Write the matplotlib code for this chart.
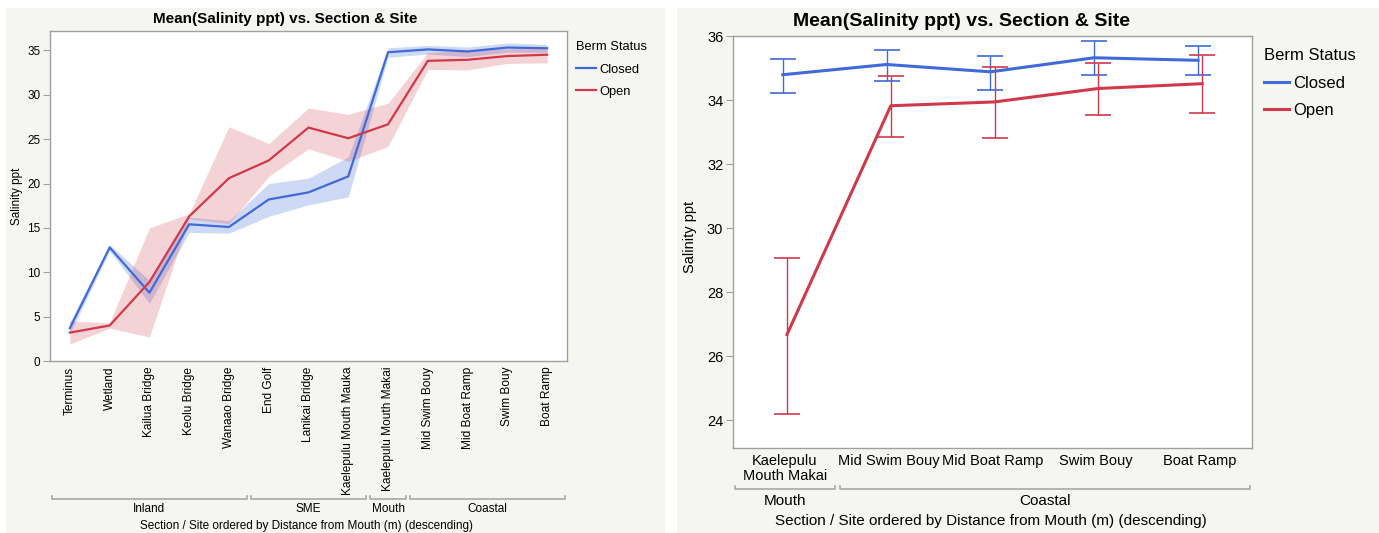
import numpy as np
import matplotlib.pyplot as plt
from matplotlib.patches import Rectangle
from matplotlib.lines import Line2D
from matplotlib.transforms import blended_transform_factory

plt.rcParams['font.family'] = ['Liberation Sans', 'DejaVu Sans']

W, H = 1379, 533

sites = ['Terminus', 'Wetland', 'Kailua Bridge', 'Keolu Bridge', 'Wanaao Bridge',
         'End Golf', 'Lanikai Bridge', 'Kaelepulu Mouth Mauka', 'Kaelepulu Mouth Makai',
         'Mid Swim Bouy', 'Mid Boat Ramp', 'Swim Bouy', 'Boat Ramp']
sections = ['Inland', 'SME', 'Mouth', 'Coastal']
section_sizes = [5, 3, 1, 4]

# mean salinity and the range shown around it, per site
closed_mean = [3.7, 12.8, 7.7, 15.4, 15.1, 18.2, 19.0, 20.8, 34.79, 35.11, 34.88, 35.32, 35.24]
closed_lo = [3.1, 12.4, 6.5, 14.5, 14.4, 16.3, 17.6, 18.5, 34.22, 34.59, 34.30, 34.79, 34.77]
closed_hi = [4.4, 13.1, 9.1, 16.2, 15.8, 20.0, 20.6, 23.0, 35.29, 35.56, 35.38, 35.83, 35.68]
open_mean = [3.2, 4.0, 8.9, 16.3, 20.6, 22.6, 26.3, 25.1, 26.67, 33.82, 33.94, 34.36, 34.51]
open_lo = [1.9, 3.7, 2.7, 16.0, 15.5, 20.8, 23.9, 22.5, 24.18, 32.85, 32.80, 33.53, 33.59]
open_hi = [4.5, 4.3, 15.0, 16.6, 26.4, 24.5, 28.5, 27.8, 29.05, 34.75, 35.02, 35.17, 35.41]

BLUE = '#3f6ad8'
RED = '#d0394a'
GRID = '#a0a0a0'
PANEL = '#f5f5f1'
TITLE = 'Mean(Salinity ppt) vs. Section & Site'
XTITLE = 'Section / Site ordered by Distance from Mouth (m) (descending)'


def fx(px):
    return px / W


def fy(py):
    return 1 - py / H


def style_axes(ax, fs):
    for s in ax.spines.values():
        s.set_color(GRID)
        s.set_linewidth(1)
    ax.tick_params(axis='y', length=5, color=GRID, labelsize=fs, pad=2)
    ax.tick_params(axis='x', length=0)


def bracket(ax, x0, x1, ypix, label, label_y, fs):
    tr = blended_transform_factory(ax.transData, fig.transFigure)
    y = fy(ypix)
    dy = 3 / H
    fig.add_artist(Line2D([x0, x0, x1, x1], [y + dy, y, y, y + dy],
                          transform=tr, color='#a8a8a8', lw=1.2))
    fig.text((x0 + x1) / 2, fy(label_y), label, transform=tr,
             ha='center', va='center', fontsize=fs)


fig = plt.figure(figsize=(W / 100, H / 100), dpi=100, facecolor='white')
fig.add_artist(Rectangle((fx(6), 0), fx(665 - 6), fy(8), transform=fig.transFigure,
                         facecolor=PANEL, edgecolor='none', zorder=-10))
fig.add_artist(Rectangle((fx(677), 0), fx(W - 677), fy(8), transform=fig.transFigure,
                         facecolor=PANEL, edgecolor='none', zorder=-10))

# ---- left: all sites with shaded ranges
ax1 = fig.add_axes([fx(50), fy(361), (567 - 50) / W, (361 - 31.3) / H])
x = np.arange(len(sites))
ax1.fill_between(x, closed_lo, closed_hi, color=BLUE, alpha=0.25, lw=0)
ax1.fill_between(x, open_lo, open_hi, color=RED, alpha=0.22, lw=0)
ax1.plot(x, closed_mean, color=BLUE, lw=1.6, label='Closed')
ax1.plot(x, open_mean, color=RED, lw=1.6, label='Open')
ax1.set_xlim(-0.5, len(sites) - 0.5)
ax1.set_ylim(0, 37.15)
ax1.set_yticks(range(0, 36, 5))
ax1.set_xticks(x)
ax1.set_xticklabels(sites, rotation=90, fontsize=8.6)
ax1.tick_params(axis='x', pad=4)
style_axes(ax1, 8.5)
ax1.legend(title='Berm Status', loc='upper left', bbox_to_anchor=(fx(570), fy(35)),
           bbox_transform=fig.transFigure, frameon=False, fontsize=9.3,
           title_fontsize=9.3, alignment='left', borderpad=0, handlelength=1.55,
           handletextpad=0.25, labelspacing=0.78)

start = 0
for name, n in zip(sections, section_sizes):
    bracket(ax1, start - 0.5 + 0.05, start + n - 0.5 - 0.05, 499, name, 509, 8.5)
    start += n

fig.text(fx(285), fy(19), TITLE, ha='center', va='center', fontsize=11, fontweight='bold')
fig.text(fx(17), fy(196), 'Salinity ppt', rotation=90, ha='center', va='center', fontsize=8.5)
fig.text(fx(307), fy(526), XTITLE, ha='center', va='center', fontsize=8.5)

# ---- right: mouth and coastal sites with error bars
k = 8
sites2 = ['Kaelepulu\nMouth Makai'] + sites[k + 1:]
x2 = np.arange(len(sites2))
off = 0.02
ax2 = fig.add_axes([fx(733), fy(448), (1252 - 733) / W, (448 - 36) / H])
for mean, lo, hi, col, name, dx in [(closed_mean, closed_lo, closed_hi, BLUE, 'Closed', -off),
                                    (open_mean, open_lo, open_hi, RED, 'Open', off)]:
    m = np.array(mean[k:])
    err = [m - np.array(lo[k:]), np.array(hi[k:]) - m]
    ax2.errorbar(x2 + dx, m, yerr=err, fmt='none', ecolor=col, elinewidth=1,
                 capsize=9.7, capthick=1.2)
    ax2.plot(x2 + dx, m, color=col, lw=2.2, label=name)
ax2.set_xlim(-0.5, len(sites2) - 0.5)
ax2.set_ylim(23.125, 36)
ax2.set_yticks(range(24, 37, 2))
ax2.set_xticks(x2)
ax2.set_xticklabels(sites2, fontsize=10.5, linespacing=1.15)
ax2.tick_params(axis='x', pad=4)
style_axes(ax2, 10.5)
ax2.legend(title='Berm Status', loc='upper left', bbox_to_anchor=(fx(1256), fy(40)),
           bbox_transform=fig.transFigure, frameon=False, fontsize=12,
           title_fontsize=12, alignment='left', borderpad=0, handlelength=1.5,
           handletextpad=0.25, labelspacing=0.73)

bracket(ax2, -0.5 + 0.02, 0.5 - 0.02, 489, 'Mouth', 501, 11)
bracket(ax2, 0.5 + 0.03, len(sites2) - 0.5 - 0.02, 489, 'Coastal', 501, 11)

fig.text(fx(962), fy(21), TITLE, ha='center', va='center', fontsize=14, fontweight='bold')
fig.text(fx(690), fy(237), 'Salinity ppt', rotation=90, ha='center', va='center', fontsize=10.5)
fig.text(fx(991), fy(521), XTITLE, ha='center', va='center', fontsize=11)

fig.savefig('out.png', dpi=100, facecolor='white')
